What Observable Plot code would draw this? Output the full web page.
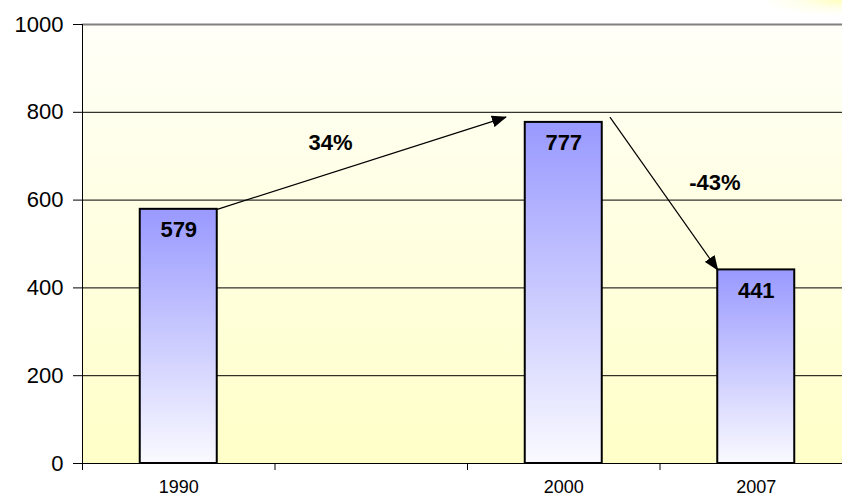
<!DOCTYPE html>
<html>
<head>
<meta charset="utf-8">
<script src="https://cdn.jsdelivr.net/npm/d3@7"></script>
<script src="https://cdn.jsdelivr.net/npm/@observablehq/plot@0.6"></script>
<style>
  html, body { margin: 0; padding: 0; background: #ffffff; }
  body {
    width: 842px; height: 497px; overflow: hidden;
    background: radial-gradient(ellipse 80px 16px at 842px 0px, rgba(255,255,190,1) 0%, rgba(255,255,220,0.6) 50%, rgba(255,255,255,0) 100%), #ffffff;
  }
  #chart svg { display: block; background: transparent; }
</style>
</head>
<body>
<div id="chart"></div>
<script>
// ---- data ----
const xSlots = ["1990", "", "2000", "2007"];   // category slots on the x axis (one empty)
const years = ["1990", "2000", "2007"];
const values = [579, 777, 441];
const yTicks = [0, 200, 400, 600, 800, 1000];

// ---- derived tables ----
const bars = years.map((y, i) => ({year: y, value: values[i], slot: xSlots.indexOf(y)}));
const BAR_INSET = 0.3;           // fraction of slot left empty on each side of a bar
const PEAK_GAP = 12;             // arrows pivot slightly above the tallest bar
const pct = (a, b) => Math.round((b.value - a.value) / a.value * 100) + "%";

const pivot = bars[1].value + PEAK_GAP;
const arrows = [
  {x1: bars[0].slot + 1 - BAR_INSET, y1: bars[0].value,
   x2: bars[1].slot + BAR_INSET - 0.1, y2: pivot, text: pct(bars[0], bars[1])},
  {x1: bars[1].slot + 1 - BAR_INSET + 0.04, y1: pivot,
   x2: bars[2].slot + BAR_INSET, y2: bars[2].value, text: pct(bars[1], bars[2])}
].map(d => ({...d, mx: (d.x1 + d.x2) / 2, my: (d.y1 + d.y2) / 2}));
const labelOffsets = [{dx: -31, dy: -20}, {dx: 51, dy: -11}];

const FONT = "Arial, 'Liberation Sans', Helvetica, sans-serif";

const plot = Plot.plot({
  width: 842,
  height: 497,
  marginLeft: 82,
  marginRight: -10,
  marginTop: 24,
  marginBottom: 34,
  style: {fontFamily: FONT, color: "black", background: "transparent"},
  x: {domain: [0, xSlots.length], label: null},
  y: {domain: [0, 1000], label: null},
  marks: [
    Plot.frame({fill: "url(#bgGrad)", stroke: null}),
    Plot.ruleY(yTicks.filter(t => t > 0 && t < 1000), {stroke: "black", strokeWidth: 1}),
    Plot.ruleY([1000], {stroke: "#808080", strokeWidth: 2}),
    Plot.rectY(bars, {
      x1: d => d.slot + BAR_INSET, x2: d => d.slot + 1 - BAR_INSET,
      y1: 0, y2: "value",
      fill: "url(#barGrad)", stroke: "black", strokeWidth: 2
    }),
    Plot.ruleY([0], {stroke: "black", strokeWidth: 1}),
    Plot.ruleX([0], {stroke: "black", strokeWidth: 1}),
    Plot.axisY({ticks: yTicks, tickSize: 9, tickPadding: 10, fontSize: 22, tickFormat: d => String(d), label: null, stroke: "black"}),
    Plot.axisX({ticks: d3.range(xSlots.length + 1), tickSize: 7, tickFormat: () => "", label: null, stroke: "black"}),
    Plot.axisX({ticks: bars.map(d => d.slot + 0.5), tickSize: 0, tickPadding: 17, fontSize: 18,
                tickFormat: t => xSlots[Math.floor(t)], label: null}),
    Plot.text(bars, {
      x: d => d.slot + 0.5, y: "value", text: d => String(d.value),
      dy: 21, lineAnchor: "middle", fontSize: 22, fontWeight: "bold", fill: "black"
    }),
    Plot.link(arrows, {x1: "x1", y1: "y1", x2: "x2", y2: "y2", stroke: "black", strokeWidth: 1.2}),
    ...arrows.map((a, i) => Plot.text([a], {
      x: "mx", y: "my", text: "text", dx: labelOffsets[i].dx, dy: labelOffsets[i].dy,
      fontSize: 22, fontWeight: "bold", fill: "black", lineAnchor: "middle"
    }))
  ]
});

// gradients and arrowhead marker
const svg = d3.select(plot);
const defs = svg.insert("defs", ":first-child");
const bg = defs.append("linearGradient").attr("id", "bgGrad").attr("x1", 0).attr("y1", 0).attr("x2", 0).attr("y2", 1);
bg.append("stop").attr("offset", "0%").attr("stop-color", "#fffff8");
bg.append("stop").attr("offset", "100%").attr("stop-color", "#ffffc8");
const bar = defs.append("linearGradient").attr("id", "barGrad").attr("x1", 0).attr("y1", 0).attr("x2", 0).attr("y2", 1);
bar.append("stop").attr("offset", "0%").attr("stop-color", "#9999ff");
bar.append("stop").attr("offset", "100%").attr("stop-color", "#fafaff");
defs.append("marker").attr("id", "ahead")
  .attr("viewBox", "0 0 15 12").attr("refX", 14).attr("refY", 6)
  .attr("markerWidth", 15).attr("markerHeight", 12)
  .attr("markerUnits", "userSpaceOnUse").attr("orient", "auto")
  .append("path").attr("d", "M0,0L15,6L0,12Z").attr("fill", "black").attr("stroke", "none");
svg.selectAll("g[aria-label='link'] path, g[aria-label='link'] line").attr("marker-end", "url(#ahead)");

document.getElementById("chart").appendChild(plot);
</script>
</body>
</html>
